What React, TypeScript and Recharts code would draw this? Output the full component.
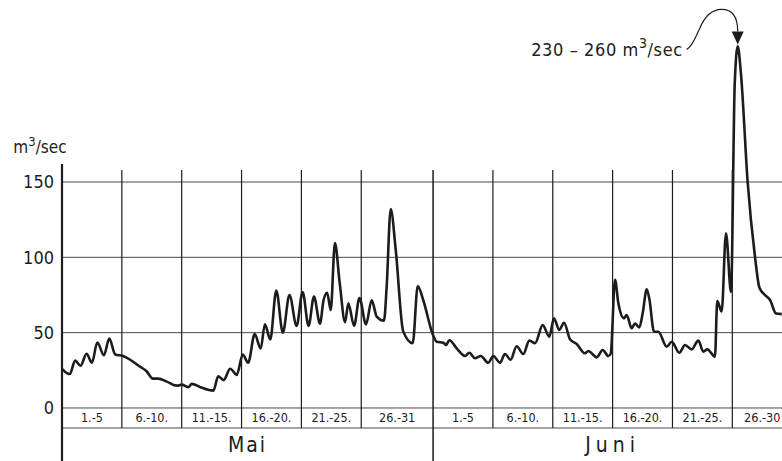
import React from "react";
import {
  LineChart,
  Line,
  XAxis,
  YAxis,
  ReferenceLine,
  ReferenceArea,
  ReferenceDot,
} from "recharts";

// Daily discharge, May 1 (day 0) .. end of June
const dayPos = [
  0.0, 0.65, 1.1, 1.55, 2.05, 2.5, 2.95, 3.5, 3.95, 4.45, 5.1, 5.7, 6.5, 7.05,
  7.6, 8.05, 8.75, 9.6, 10.0, 10.55, 10.85, 11.55, 12.65, 13.05, 13.5, 14.05,
  14.6, 15.1, 15.55, 16.1, 16.6, 16.95, 17.4, 17.9, 18.45, 19.0, 19.6, 20.1,
  20.6, 21.05, 21.55, 21.85, 22.15, 22.45, 22.8, 23.2, 23.65, 23.92, 24.4,
  24.85, 25.4, 25.87, 26.3, 26.9, 27.12, 27.46, 27.88, 28.5, 29.3, 29.72, 30.2,
  30.97, 31.3, 31.86, 32.08, 32.36, 32.97, 33.67, 34.03, 34.5, 34.98, 35.61,
  36.03, 36.6, 37.0, 37.48, 37.98, 38.54, 39.04, 39.52, 40.16, 40.71, 41.1,
  41.54, 41.94, 42.44, 43.0, 43.69, 43.97, 44.67, 45.17, 45.64, 45.84, 46.2,
  46.48, 46.95, 47.17, 47.59, 47.87, 48.23, 48.51, 48.85, 49.06, 49.46, 49.82,
  50.52, 50.94, 51.57, 52.05, 52.6, 53.16, 53.58, 53.91, 54.55, 54.74, 55.11,
  55.47, 55.89, 56.2, 56.45, 56.72, 57.28, 57.9, 58.26, 58.73, 59.15, 59.65,
  60.13,
];
const flow = [
  26, 22.5, 31.5, 28, 36, 30, 43.5, 35, 46, 35.5, 34.5, 32, 27.5, 24.5, 19.5,
  19.5, 17.5, 14.8, 15.5, 13.8, 16, 13.8, 11.5, 21, 18.5, 26, 22, 35.5, 30, 49,
  39.5, 55.5, 45.5, 78, 50, 75, 54.5, 77, 54.5, 74, 56, 71.5, 76.5, 65, 109.5,
  83, 57, 69.5, 54.5, 73, 55.5, 71.5, 60.5, 58, 80, 132, 105, 51, 43, 81, 71,
  49, 44, 43.3, 41.8, 45, 39.6, 34.5, 36.7, 33, 34.5, 30, 34.5, 30, 35.8, 32,
  41, 35.8, 44.7, 43, 55, 47.3, 59.5, 51.8, 56.6, 45.6, 42.5, 36.3, 37.8, 33.6,
  38.5, 34.5, 36, 85, 69.5, 59.5, 61.7, 53, 56, 53.5, 62.8, 78.8, 72.8, 50.6,
  50.6, 40.7, 44, 36.7, 41.8, 38.9, 44.7, 37.4, 38.9, 34, 71, 64, 116, 77, 215,
  240, 222, 150, 100, 80, 75, 71.7, 62.7, 62.3,
];

const yTicks = [0, 50, 100, 150];
const periodBounds = [0, 5, 10, 15, 20, 25, 31, 36, 41, 46, 51, 56, 61];
const periodLabels = [
  "1.-5", "6.-10.", "11.-15.", "16.-20.", "21.-25.", "26.-31",
  "1.-5", "6.-10.", "11.-15.", "16.-20.", "21.-25.", "26.-30",
];
const monthBounds = [0, 31, 61];
const monthLabels = ["Mai", "Juni"];
const peakRange = "230 – 260";

const W = 782;
const H = 461;
const AXIS_W = 62;
const X_MAX = 60.15;
const Y_MIN = -35.2;
const Y_MAX = 270.8;
const ROW_BOTTOM = -13.3; // lower edge of the day-range row
const GRID_TOP = 158;
const AXIS_TOP = 162;
const UNIT_Y = 173;

const FONT = "'DejaVu Sans Condensed', 'DejaVu Sans', sans-serif";
const INK = "#1c1c1c";
const GRID = "#4a4a4a";

const data = dayPos.map((d, i) => ({ d, q: flow[i] }));
const peakIdx = flow.indexOf(Math.max(...flow));

const PeakNote = (props: any) => {
  const vb = props.viewBox || {};
  const cx = vb.x + (vb.width || 0) / 2;
  const cy = vb.y + (vb.height || 0) / 2;
  return (
    <g>
      <path
        d={`M ${cx - 51} ${cy + 3} C ${cx - 45} ${cy} ${cx - 42} ${cy - 10} ${cx - 38} ${cy - 18} C ${cx - 33} ${cy - 30} ${cx - 26} ${cy - 37} ${cx - 16} ${cy - 37} C ${cx - 6} ${cy - 37} ${cx} ${cy - 30} ${cx} ${cy - 15}`}
        fill="none"
        stroke={INK}
        strokeWidth={1.2}
      />
      <path d={`M ${cx - 6} ${cy - 15} L ${cx + 6} ${cy - 15} L ${cx} ${cy - 2} Z`} fill={INK} />
      <text
        x={cx - 55}
        y={cy + 3}
        textAnchor="end"
        dominantBaseline="central"
        fontFamily={FONT}
        fontSize={18}
        letterSpacing={0.6}
        fill={INK}
      >
        {peakRange + " m"}
        <tspan dy={-6} fontSize={14}>3</tspan>
        <tspan dy={6}>/sec</tspan>
      </text>
    </g>
  );
};

const UnitLabel = (props: any) => {
  const vb = props.viewBox || {};
  const cx = vb.x + (vb.width || 0) / 2;
  const cy = vb.y + (vb.height || 0) / 2;
  return (
    <text
      x={cx - 22}
      y={cy}
      textAnchor="middle"
      dominantBaseline="central"
      fontFamily={FONT}
      fontSize={17}
      fill={INK}
    >
      m
      <tspan dy={-6} fontSize={13}>3</tspan>
      <tspan dy={6}>/sec</tspan>
    </text>
  );
};

export default function App() {
  return (
    <div
      style={{
        position: "absolute",
        left: 0,
        top: 0,
        width: W,
        height: H,
        overflow: "hidden",
        background: "#fff",
      }}
    >
      <LineChart width={W} height={H} data={data} margin={{ top: 0, right: 0, bottom: 0, left: 0 }}>
        <XAxis dataKey="d" type="number" domain={[0, X_MAX]} hide allowDataOverflow />
        <YAxis
          type="number"
          domain={[Y_MIN, Y_MAX]}
          ticks={yTicks}
          interval={0}
          width={AXIS_W}
          axisLine={false}
          tickLine={false}
          allowDataOverflow
          tick={{ fill: INK, fontSize: 18, fontFamily: FONT }}
        />
        {yTicks.map((t) => (
          <ReferenceLine key={"g" + t} y={t} stroke={GRID} strokeWidth={1} />
        ))}
        <ReferenceLine y={ROW_BOTTOM} stroke={GRID} strokeWidth={1} />

        {periodBounds
          .filter((b) => b <= X_MAX && !monthBounds.includes(b))
          .map((b) => (
            <ReferenceLine
              key={"p" + b}
              segment={[{ x: b, y: ROW_BOTTOM }, { x: b, y: GRID_TOP }]}
              stroke={INK}
              strokeWidth={1.2}
              ifOverflow="visible"
            />
          ))}
        {monthBounds
          .filter((b) => b <= X_MAX)
          .map((b) => (
            <ReferenceLine
              key={"m" + b}
              segment={[{ x: b, y: Y_MIN }, { x: b, y: b === 0 ? AXIS_TOP : GRID_TOP }]}
              stroke={INK}
              strokeWidth={b === 0 ? 2.2 : 1.5}
              ifOverflow="visible"
            />
          ))}

        {periodLabels.map((lab, i) => (
          <ReferenceArea
            key={"pl" + i}
            x1={periodBounds[i]}
            x2={periodBounds[i + 1]}
            y1={ROW_BOTTOM}
            y2={0}
            fill="none"
            fillOpacity={0}
            stroke="none"
            ifOverflow="visible"
            label={{ value: lab, position: "center", fill: INK, fontSize: 12.5, fontFamily: FONT }}
          />
        ))}
        {monthLabels.map((lab, i) => (
          <ReferenceArea
            key={"ml" + i}
            x1={monthBounds[i]}
            x2={monthBounds[i + 1]}
            y1={Y_MIN}
            y2={ROW_BOTTOM}
            fill="none"
            fillOpacity={0}
            stroke="none"
            ifOverflow="visible"
            label={{
              value: lab,
              position: "center",
              fill: INK,
              fontSize: 21,
              fontFamily: FONT,
              letterSpacing: i === 0 ? 2 : 5,
            }}
          />
        ))}

        <Line
          type="monotone"
          dataKey="q"
          stroke={INK}
          strokeWidth={2.6}
          dot={false}
          activeDot={false}
          isAnimationActive={false}
        />

        <ReferenceDot
          x={dayPos[peakIdx]}
          y={flow[peakIdx]}
          r={0.5}
          fill="none"
          stroke="none"
          ifOverflow="visible"
          label={<PeakNote />}
        />
        <ReferenceDot
          x={0}
          y={UNIT_Y}
          r={0.5}
          fill="none"
          stroke="none"
          ifOverflow="visible"
          label={<UnitLabel />}
        />
      </LineChart>
    </div>
  );
}
